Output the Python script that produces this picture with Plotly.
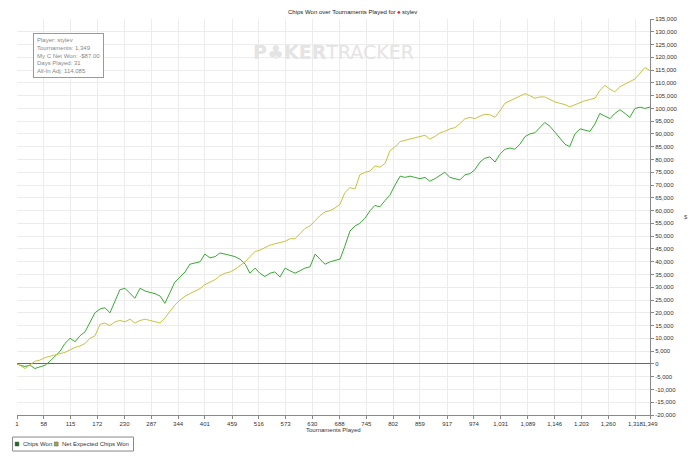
import plotly.graph_objects as go

tournaments = [1, 7, 18, 29, 39, 50, 61, 71, 82, 93, 103, 114, 125, 135, 146, 156, 167, 178, 188, 199,
               210, 220, 231, 242, 252, 263, 274, 284, 295, 306, 316, 327, 337, 348, 359, 369, 380, 391,
               401, 412, 423, 433, 444, 455, 465, 476, 487, 497, 508, 518, 529, 540, 550, 561, 572, 582,
               593, 604, 614, 625, 636, 646, 657, 668, 678, 689, 699, 710, 721, 731, 742, 753, 763, 774,
               785, 795, 806, 817, 827, 838, 848, 859, 870, 880, 891, 902, 912, 923, 934, 944, 955, 966,
               976, 987, 997, 1008, 1019, 1029, 1040, 1051, 1061, 1072, 1083, 1093, 1104, 1115, 1125,
               1136, 1147, 1157, 1168, 1178, 1189, 1200, 1210, 1221, 1232, 1242, 1253, 1264, 1274, 1285,
               1296, 1306, 1317, 1328, 1338, 1349]

chips_won = [0, -500, -1000, -500, -1800, -1000, -500, 1000, 3000, 5000, 8000, 10000, 8700, 11000, 12600,
             16000, 20000, 21500, 22000, 20000, 25000, 29000, 29600, 27600, 25700, 29600, 28500, 28000,
             27500, 26500, 23700, 28000, 32000, 34000, 36000, 39000, 39500, 40000, 43000, 41500, 42000,
             43400, 43000, 42500, 42000, 41000, 39000, 35500, 37500, 35500, 34200, 35500, 36000, 34000,
             37500, 36500, 35500, 36500, 37500, 38000, 43000, 41000, 39000,
             40000, 40500, 41000, 46000, 52000, 54000, 55000, 57000, 60000, 62000, 61500, 64000, 66000,
             70000, 73500, 73000, 73500, 73000, 72500, 73000, 71500, 72500, 74000, 75000, 73000, 72500,
             72000, 74000, 74500, 76000, 79000, 80500, 81000, 79000, 82000, 84000, 84500, 84000, 86000,
             89000, 90000, 90500, 92500, 94500, 93000, 90500, 88500, 86000, 85000, 90000, 92000, 91500,
             91000, 94000, 98000, 97000, 96000, 98000, 99500, 98000, 96500, 100000, 100500, 100000, 100500]

net_expected = [0, -500, -1800, -500, 1000, 1500, 2500, 3000, 3500, 4000, 4500, 5500, 6500, 7000, 8000,
                10000, 11000, 15500, 16000, 15000, 16500, 17000, 16500, 17500, 16000, 17000, 17500, 17000,
                16500, 16000, 18000, 20500, 23000, 25000, 26500, 27500, 28500, 29500, 31000, 32000, 33000,
                34500, 35500, 36000, 37000, 38500, 40000, 42000, 44000, 44500, 45500, 46500, 47000, 47500,
                48000, 49000, 49000, 51000, 53000, 54000, 56000, 58000, 59500, 60000,
                61000, 62500, 67000, 69000, 68500, 74000, 75000, 75500, 77500, 77000, 78500, 83400, 85000,
                87000, 87500, 88000, 88500, 89000, 89500, 88000, 89000, 90500, 91000, 92000, 92500, 94000,
                96000, 96500, 96000, 97000, 97700, 97500, 96500, 99000, 102000, 103000, 103800, 105000,
                105800, 105000, 104000, 104500, 104500, 103500, 102500, 102000, 101500, 100600, 101500,
                102500, 103000, 103500, 104000, 107000, 109000, 107500, 106500, 108500, 109700, 110500,
                111500, 114000, 116000, 114800]

series_names = ["Chips Won", "Net Expected Chips Won"]
x_ticks = [1, 58, 115, 172, 230, 287, 344, 401, 459, 516, 573, 630, 688, 745, 802, 859, 917, 974,
           1031, 1089, 1146, 1203, 1260, 1318, 1349]
y_ticks = list(range(-20000, 135001, 5000))

GREEN = "#3aa935"
YELLOW = "#c9c13f"
F = "Liberation Sans"

fig = go.Figure()
fig.add_trace(go.Scatter(x=tournaments, y=chips_won, mode="lines", name=series_names[0],
                         line=dict(color=GREEN, width=1), showlegend=False))
fig.add_trace(go.Scatter(x=tournaments, y=net_expected, mode="lines", name=series_names[1],
                         line=dict(color=YELLOW, width=1), showlegend=False))

shapes = [dict(type="rect", xref="paper", yref="paper", x0=-0.007, x1=0.184, y0=-0.091, y1=-0.0556,
               line=dict(color="#888", width=1), fillcolor="white")]
legend_items = [(0.0, 0.0065, "#1e6b1e"), (0.062, 0.0685, "#a8a83a")]
for (sx, tx, col), name in zip(legend_items, series_names):
    shapes.append(dict(type="rect", xref="paper", yref="paper", x0=sx - 0.003, x1=sx + 0.003,
                       y0=-0.0783, y1=-0.0683, line=dict(color="#555", width=0.5), fillcolor=col))
    fig.add_annotation(xref="paper", yref="paper", x=tx, y=-0.0733, xanchor="left", yanchor="middle",
                       showarrow=False, text=name, font=dict(size=6, color="#333"))

fig.update_layout(
    width=700, height=458, paper_bgcolor="white", plot_bgcolor="white",
    margin=dict(l=9, r=58, t=11, b=51, autoexpand=False),
    font=dict(family=F, size=6, color="#333"),
    showlegend=False, shapes=shapes,
    xaxis=dict(range=[1, 1349], tickvals=x_ticks, ticktext=[f"{v:,}" for v in x_ticks], tickangle=0,
               showgrid=True, gridcolor="#ececec", ticks="outside", ticklen=3, tickcolor="#888",
               showline=True, linecolor="#888", zeroline=False, automargin=False),
    yaxis=dict(range=[-20000, 135000], tickvals=y_ticks, ticktext=[f"{v:,}" for v in y_ticks],
               side="right", showgrid=True, gridcolor="#ececec", ticks="outside", ticklen=3,
               tickcolor="#888", showline=True, linecolor="#888", zeroline=True, automargin=False,
               zerolinecolor="#666", zerolinewidth=1),
)

fig.add_annotation(xref="paper", yref="paper", x=0.5, y=-0.038, yanchor="middle", showarrow=False,
                   text="Tournaments Played", font=dict(size=6, color="#333"))
fig.add_annotation(xref="paper", yref="paper", x=0.53, y=1.005, yanchor="bottom", showarrow=False,
                   text="Chips Won over Tournaments Played for <span style='color:#d23'>♠</span> stylev",
                   font=dict(size=6, color="#222"))
fig.add_annotation(xref="paper", yref="paper", x=0.50, y=0.95, showarrow=False,
                   text="<b>P♣KER</b>TRACKER", font=dict(size=19, color="#e4e4e4", family="DejaVu Sans"))
fig.add_annotation(xref="paper", yref="paper", x=0.026, y=0.965, xanchor="left", yanchor="top",
                   showarrow=False, align="left", bordercolor="#999", borderwidth=1, borderpad=3,
                   bgcolor="white",
                   text="Player: stylev<br>Tournaments: 1,349<br>My C Net Won: -$87.00<br>Days Played: 31<br>All-In Adj: 114,085",
                   font=dict(size=6, color="#888"))
fig.add_annotation(xref="paper", yref="paper", x=1.05, y=0.5, xanchor="left", showarrow=False, text="$",
                   font=dict(size=6, color="#555"))

fig.write_html("out.html")
